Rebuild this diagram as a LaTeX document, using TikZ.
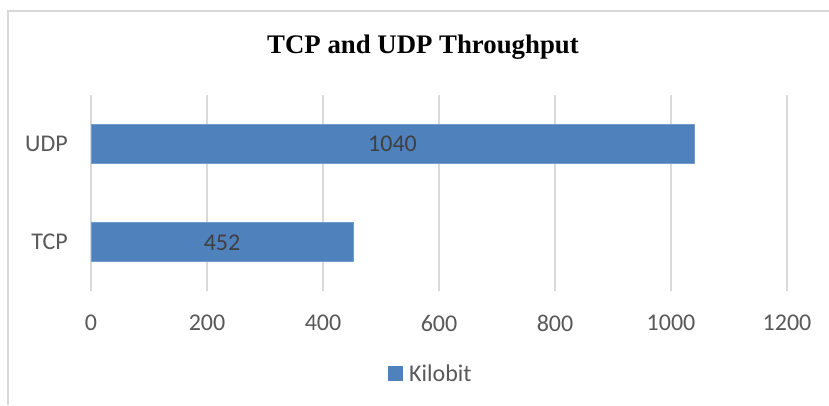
\documentclass[tikz,border=0pt]{standalone}
\usepackage{fontspec}
\setmainfont{Carlito}
\newfontfamily\titlefont{Liberation Serif}
\definecolor{barblue}{HTML}{4F81BD}
\definecolor{gridgray}{HTML}{D9D9D9}
\definecolor{axistext}{HTML}{595959}
\definecolor{datatext}{HTML}{404040}
\begin{document}
\begin{tikzpicture}[x=1pt,y=-1pt,
  gridline/.style={draw=gridgray,line width=2pt},
  bar/.style={fill=barblue,draw=barblue!80!white,line width=0.6pt},
  ticklabel/.style={text=axistext,font=\fontsize{24}{28}\selectfont,inner sep=0pt,anchor=center},
  catlabel/.style={text=axistext,font=\fontsize{24}{28}\selectfont,inner sep=0pt,anchor=east},
  datalabel/.style={text=datatext,font=\fontsize{24}{28}\selectfont,inner sep=0pt,anchor=center}]
\useasboundingbox (0,0) rectangle (829,405);
\fill[white] (0,0) rectangle (829,405);
% chart frame
\draw[draw=gridgray,line width=2pt] (8,405) -- (8,10.5) -- (829,10.5);
% title
\node[font=\titlefont\bfseries\fontsize{26.8}{32}\selectfont,inner sep=0pt] (title) at (423,47) {TCP and UDP Throughput};
% gridlines
\foreach \v/\n in {0/g0,200/g200,400/g400,600/g600,800/g800,1000/g1000,1200/g1200}{
  \coordinate (\n top) at ({91+\v*0.58},95);
  \coordinate (\n bot) at ({91+\v*0.58},291);
  \draw[gridline] (\n top) -- (\n bot);
  \node[ticklabel] (\n lab) at ({91+\v*0.58},323) {\v};
}
% bars
\draw[bar] (91,124) rectangle (694,163);
\node[datalabel] (udpval) at (392.5,144) {1040};
\draw[bar] (91,222) rectangle (353,261);
\node[datalabel] (tcpval) at (222,243) {452};
% category labels
\node[catlabel] (udp) at (68,144) {UDP};
\node[catlabel] (tcp) at (68,242) {TCP};
% legend
\fill[barblue] (388,366) rectangle (403,381);
\node[text=axistext,font=\fontsize{24}{28}\selectfont,inner sep=0pt,anchor=west] (leg) at (409,373) {Kilobit};
\end{tikzpicture}
\end{document}
